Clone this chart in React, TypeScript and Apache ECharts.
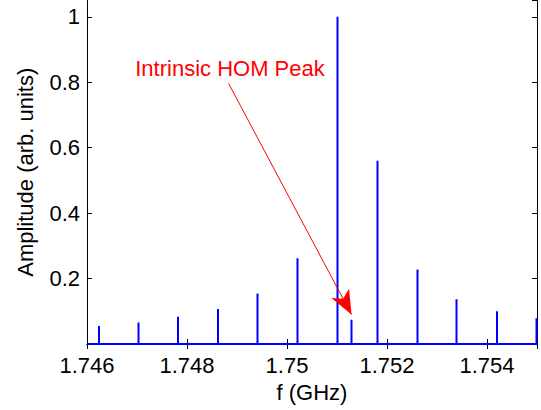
import React, { useEffect, useRef } from "react";
import * as echarts from "echarts";

const peakFreqs = [1.74624, 1.74703, 1.74782, 1.74862, 1.74941, 1.75021, 1.75101, 1.75129, 1.75181, 1.75261, 1.75339, 1.7542, 1.75499];
const peakAmps = [0.055, 0.066, 0.083, 0.107, 0.154, 0.262, 1.0, 0.074, 0.56, 0.228, 0.137, 0.1, 0.079];
const xRange = [1.746, 1.755];
const yRange = [0, 1.05];
const annotationText = "Intrinsic HOM Peak";
const arrowStart = [1.74883, 0.797];
const arrowEnd = [1.75129, 0.09];

const FONT = "'Liberation Sans', Arial, Helvetica, sans-serif";

export default function App() {
  const ref = useRef<HTMLDivElement>(null);
  useEffect(() => {
    if (!ref.current) return;
    const chart = echarts.init(ref.current, null, { renderer: "svg" });
    const data: number[][] = [[xRange[0], 0]];
    peakFreqs.forEach((f, i) => {
      data.push([f, 0], [f, peakAmps[i]], [f, 0]);
    });
    data.push([xRange[1], 0]);
    const axisLine = { show: true, lineStyle: { color: "#000", width: 1 } };
    const tick = { show: true, inside: true, length: 5, lineStyle: { color: "#000" } };
    chart.setOption({
      animation: false,
      grid: { left: 87, right: 4, top: 0.5, bottom: 66, containLabel: false },
      xAxis: [
        {
          type: "value",
          min: xRange[0],
          max: xRange[1],
          interval: 0.002,
          name: "f (GHz)",
          nameLocation: "middle",
          nameGap: 37,
          nameTextStyle: { fontFamily: FONT, fontSize: 22, color: "#000" },
          axisLine,
          axisTick: tick,
          splitLine: { show: false },
          axisLabel: { fontFamily: FONT, fontSize: 22, color: "#000", margin: 10, showMaxLabel: false },
        },
        {
          type: "value",
          position: "top",
          min: xRange[0],
          max: xRange[1],
          interval: 0.002,
          axisLine,
          axisTick: tick,
          splitLine: { show: false },
          axisLabel: { show: false },
        },
      ],
      yAxis: [
        {
          type: "value",
          min: yRange[0],
          max: yRange[1],
          interval: 0.2,
          name: "Amplitude (arb. units)",
          nameLocation: "middle",
          nameGap: 51,
          nameTextStyle: { fontFamily: FONT, fontSize: 22, color: "#000" },
          axisLine,
          axisTick: tick,
          splitLine: { show: false },
          axisLabel: {
            fontFamily: FONT,
            fontSize: 22,
            color: "#000",
            margin: 7,
            showMaxLabel: false,
            formatter: (v: number) => (v === 0 ? "" : String(Math.round(v * 10) / 10)),
          },
        },
        {
          type: "value",
          position: "right",
          min: yRange[0],
          max: yRange[1],
          interval: 0.2,
          axisLine,
          axisTick: tick,
          splitLine: { show: false },
          axisLabel: { show: false },
        },
      ],
      series: [
        {
          type: "line",
          data,
          showSymbol: false,
          symbol: "none",
          lineStyle: { color: "#0000ff", width: 2 },
          clip: false,
          z: 3,
          markLine: {
            silent: true,
            symbol: ["none", "arrow"],
            symbolSize: [15, 24],
            label: { show: false },
            lineStyle: { color: "#ff0000", width: 1, type: "solid" },
            emphasis: { disabled: true },
            data: [[{ coord: arrowStart }, { coord: arrowEnd }]],
          },
        },
      ],
      graphic: [
        {
          type: "text",
          x: 230,
          y: 68,
          style: {
            text: annotationText,
            fill: "#ff0000",
            font: `22px ${FONT}`,
            align: "center",
            verticalAlign: "middle",
          },
        },
      ],
    });
    return () => chart.dispose();
  }, []);
  return (
    <div
      ref={ref}
      style={{ position: "fixed", left: 0, top: 0, width: 541, height: 410, background: "#fff" }}
    />
  );
}
